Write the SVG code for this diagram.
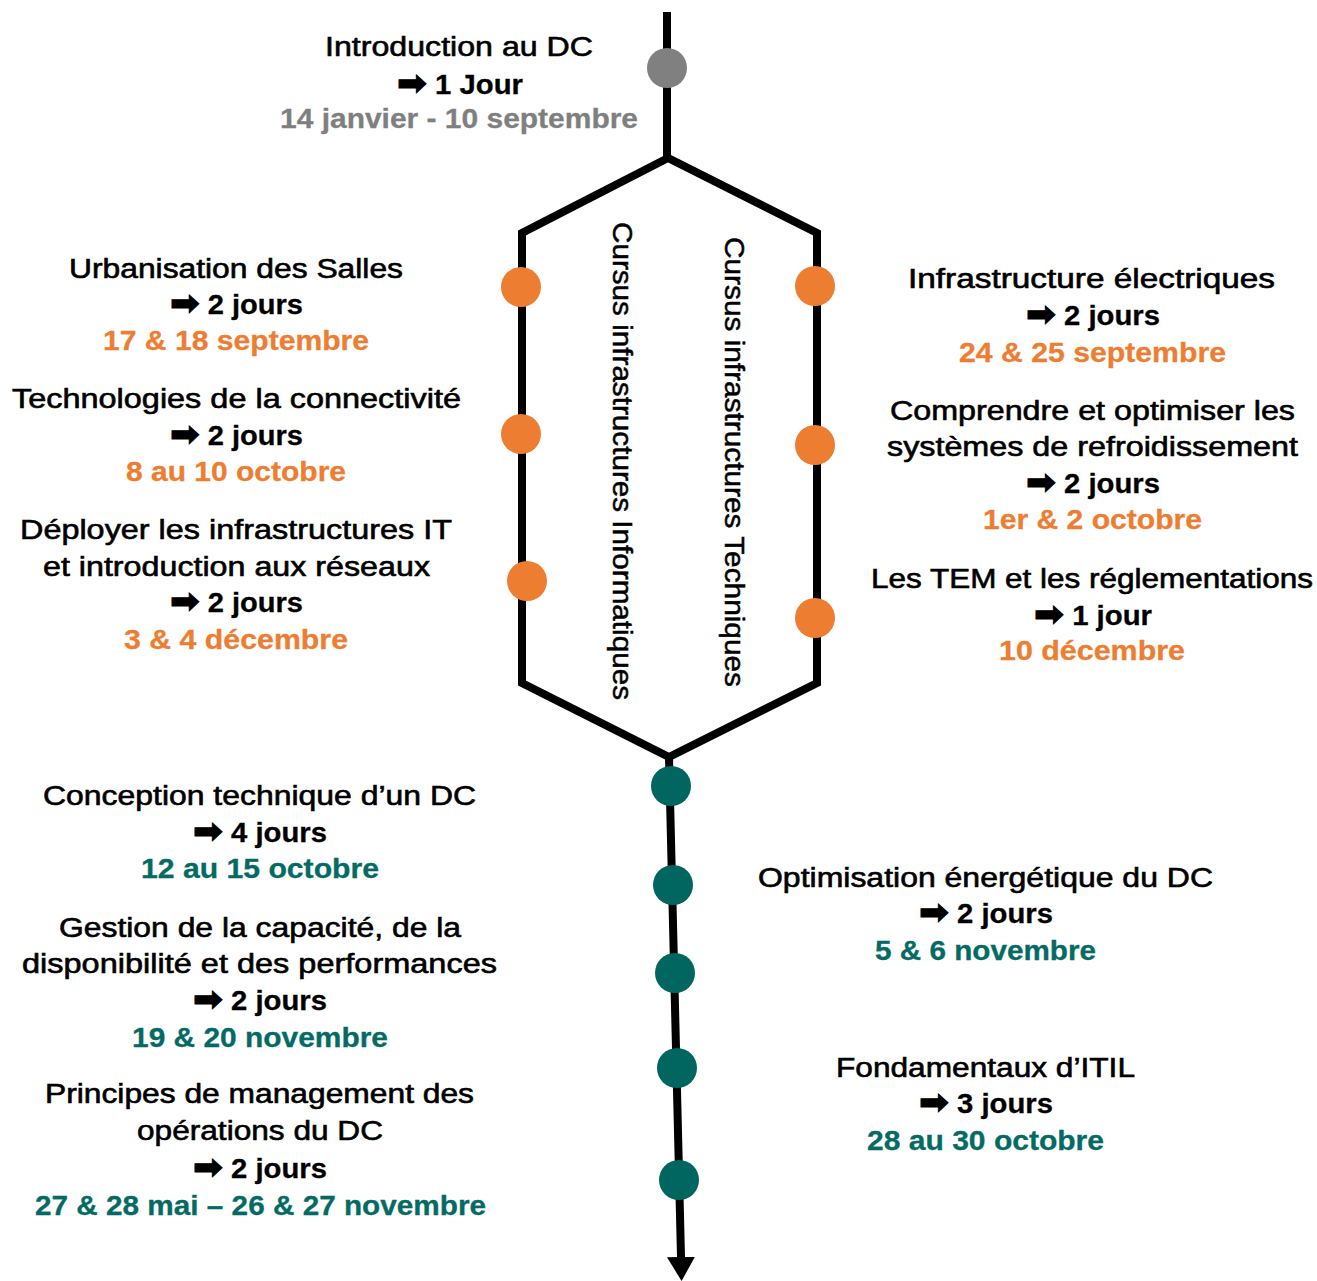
<svg xmlns="http://www.w3.org/2000/svg" width="1317" height="1281" viewBox="0 0 1317 1281">
<style>
text{font-family:"Liberation Sans",Arial,"DejaVu Sans",sans-serif;}
.n{font-size:27px;fill:#000;stroke:#000;stroke-width:0.6}
.d{font-size:27px;font-weight:bold;fill:#000;stroke:#000;stroke-width:0.3}
.g{font-size:27px;font-weight:bold;fill:#7f7f7f;stroke:#7f7f7f;stroke-width:0.3}
.o{font-size:27px;font-weight:bold;fill:#ed7d31;stroke:#ed7d31;stroke-width:0.3}
.c{font-size:27px;font-weight:bold;fill:#046a64;stroke:#046a64;stroke-width:0.3}
.v{font-size:28px;fill:#000;stroke:#000;stroke-width:0.5}
.a{font-family:"DejaVu Sans",sans-serif;font-weight:bold;font-size:33px;stroke-width:1}
.ln{fill:none;stroke:#000;stroke-width:8;stroke-linejoin:miter}
.dg{fill:#808080}
.do{fill:#ed7d31}
.dc{fill:#00665f}
</style>
<defs>
<marker id="ah" markerUnits="userSpaceOnUse" markerWidth="26" markerHeight="30" refX="0" refY="14" orient="auto">
<path d="M0,0 L24,14 L0,28 Z" fill="#000"/>
</marker>
</defs>
<rect width="1317" height="1281" fill="#fff"/>
<g id="connectors">
<path class="ln" d="M667,12 L667,158"/>
<path class="ln" d="M668,158 L522,233 L522,683 L669,757 L817,683 L817,233 Z"/>
<path class="ln" d="M669,757 L681,1257" marker-end="url(#ah)"/>
</g>
<g id="labels-cursus">
<text class="v" transform="translate(613,222) rotate(90)" textLength="478" lengthAdjust="spacingAndGlyphs">Cursus infrastructures Informatiques</text>
<text class="v" transform="translate(725,237) rotate(90)" textLength="450" lengthAdjust="spacingAndGlyphs">Cursus infrastructures Techniques</text>
</g>
<g id="n-intro">
<circle class="dg" cx="667" cy="68" r="20"/>
<text class="n" x="325" y="56" textLength="268" lengthAdjust="spacingAndGlyphs">Introduction au DC</text>
<text class="d" x="397" y="94" textLength="126" lengthAdjust="spacingAndGlyphs"><tspan class="a">➡</tspan> 1 Jour</text>
<text class="g" x="280" y="128" textLength="358" lengthAdjust="spacingAndGlyphs">14 janvier - 10 septembre</text>
</g>
<g id="n-urbanisation">
<circle class="do" cx="521" cy="287" r="20"/>
<text class="n" x="69" y="278" textLength="334" lengthAdjust="spacingAndGlyphs">Urbanisation des Salles</text>
<text class="d" x="170" y="314" textLength="133" lengthAdjust="spacingAndGlyphs"><tspan class="a">➡</tspan> 2 jours</text>
<text class="o" x="103" y="350" textLength="266" lengthAdjust="spacingAndGlyphs">17 &amp; 18 septembre</text>
</g>
<g id="n-connectivite">
<circle class="do" cx="521" cy="434" r="20"/>
<text class="n" x="12" y="408" textLength="449" lengthAdjust="spacingAndGlyphs">Technologies de la connectivité</text>
<text class="d" x="170" y="445" textLength="133" lengthAdjust="spacingAndGlyphs"><tspan class="a">➡</tspan> 2 jours</text>
<text class="o" x="126" y="481" textLength="220" lengthAdjust="spacingAndGlyphs">8 au 10 octobre</text>
</g>
<g id="n-deployer">
<circle class="do" cx="527" cy="581" r="20"/>
<text class="n" x="20" y="539" textLength="432" lengthAdjust="spacingAndGlyphs">Déployer les infrastructures IT</text>
<text class="n" x="43" y="576" textLength="387" lengthAdjust="spacingAndGlyphs">et introduction aux réseaux</text>
<text class="d" x="170" y="612" textLength="133" lengthAdjust="spacingAndGlyphs"><tspan class="a">➡</tspan> 2 jours</text>
<text class="o" x="124" y="649" textLength="224" lengthAdjust="spacingAndGlyphs">3 &amp; 4 décembre</text>
</g>
<g id="n-electrique">
<circle class="do" cx="815" cy="286" r="20"/>
<text class="n" x="908" y="288" textLength="367" lengthAdjust="spacingAndGlyphs">Infrastructure électriques</text>
<text class="d" x="1026" y="325" textLength="134" lengthAdjust="spacingAndGlyphs"><tspan class="a">➡</tspan> 2 jours</text>
<text class="o" x="959" y="362" textLength="267" lengthAdjust="spacingAndGlyphs">24 &amp; 25 septembre</text>
</g>
<g id="n-refroidissement">
<circle class="do" cx="815" cy="445" r="20"/>
<text class="n" x="890" y="420" textLength="405" lengthAdjust="spacingAndGlyphs">Comprendre et optimiser les</text>
<text class="n" x="887" y="456" textLength="411" lengthAdjust="spacingAndGlyphs">systèmes de refroidissement</text>
<text class="d" x="1026" y="493" textLength="134" lengthAdjust="spacingAndGlyphs"><tspan class="a">➡</tspan> 2 jours</text>
<text class="o" x="983" y="529" textLength="219" lengthAdjust="spacingAndGlyphs">1er &amp; 2 octobre</text>
</g>
<g id="n-tem">
<circle class="do" cx="815" cy="618" r="20"/>
<text class="n" x="871" y="588" textLength="442" lengthAdjust="spacingAndGlyphs">Les TEM et les réglementations</text>
<text class="d" x="1034" y="625" textLength="118" lengthAdjust="spacingAndGlyphs"><tspan class="a">➡</tspan> 1 jour</text>
<text class="o" x="999" y="660" textLength="186" lengthAdjust="spacingAndGlyphs">10 décembre</text>
</g>
<g id="n-conception">
<circle class="dc" cx="671" cy="786" r="20"/>
<text class="n" x="43" y="805" textLength="433" lengthAdjust="spacingAndGlyphs">Conception technique d’un DC</text>
<text class="d" x="193" y="842" textLength="134" lengthAdjust="spacingAndGlyphs"><tspan class="a">➡</tspan> 4 jours</text>
<text class="c" x="141" y="878" textLength="238" lengthAdjust="spacingAndGlyphs">12 au 15 octobre</text>
</g>
<g id="n-optimisation">
<circle class="dc" cx="673" cy="885" r="20"/>
<text class="n" x="758" y="887" textLength="455" lengthAdjust="spacingAndGlyphs">Optimisation énergétique du DC</text>
<text class="d" x="919" y="923" textLength="134" lengthAdjust="spacingAndGlyphs"><tspan class="a">➡</tspan> 2 jours</text>
<text class="c" x="875" y="960" textLength="221" lengthAdjust="spacingAndGlyphs">5 &amp; 6 novembre</text>
</g>
<g id="n-capacite">
<circle class="dc" cx="675" cy="973" r="20"/>
<text class="n" x="59" y="937" textLength="402" lengthAdjust="spacingAndGlyphs">Gestion de la capacité, de la</text>
<text class="n" x="22" y="973" textLength="475" lengthAdjust="spacingAndGlyphs">disponibilité et des performances</text>
<text class="d" x="193" y="1010" textLength="134" lengthAdjust="spacingAndGlyphs"><tspan class="a">➡</tspan> 2 jours</text>
<text class="c" x="132" y="1047" textLength="256" lengthAdjust="spacingAndGlyphs">19 &amp; 20 novembre</text>
</g>
<g id="n-itil">
<circle class="dc" cx="677" cy="1068" r="20"/>
<text class="n" x="836" y="1077" textLength="299" lengthAdjust="spacingAndGlyphs">Fondamentaux d’ITIL</text>
<text class="d" x="919" y="1113" textLength="134" lengthAdjust="spacingAndGlyphs"><tspan class="a">➡</tspan> 3 jours</text>
<text class="c" x="867" y="1150" textLength="237" lengthAdjust="spacingAndGlyphs">28 au 30 octobre</text>
</g>
<g id="n-management">
<circle class="dc" cx="679" cy="1180" r="20"/>
<text class="n" x="45" y="1103" textLength="429" lengthAdjust="spacingAndGlyphs">Principes de management des</text>
<text class="n" x="137" y="1140" textLength="246" lengthAdjust="spacingAndGlyphs">opérations du DC</text>
<text class="d" x="193" y="1178" textLength="134" lengthAdjust="spacingAndGlyphs"><tspan class="a">➡</tspan> 2 jours</text>
<text class="c" x="35" y="1215" textLength="451" lengthAdjust="spacingAndGlyphs">27 &amp; 28 mai – 26 &amp; 27 novembre</text>
</g>
</svg>
